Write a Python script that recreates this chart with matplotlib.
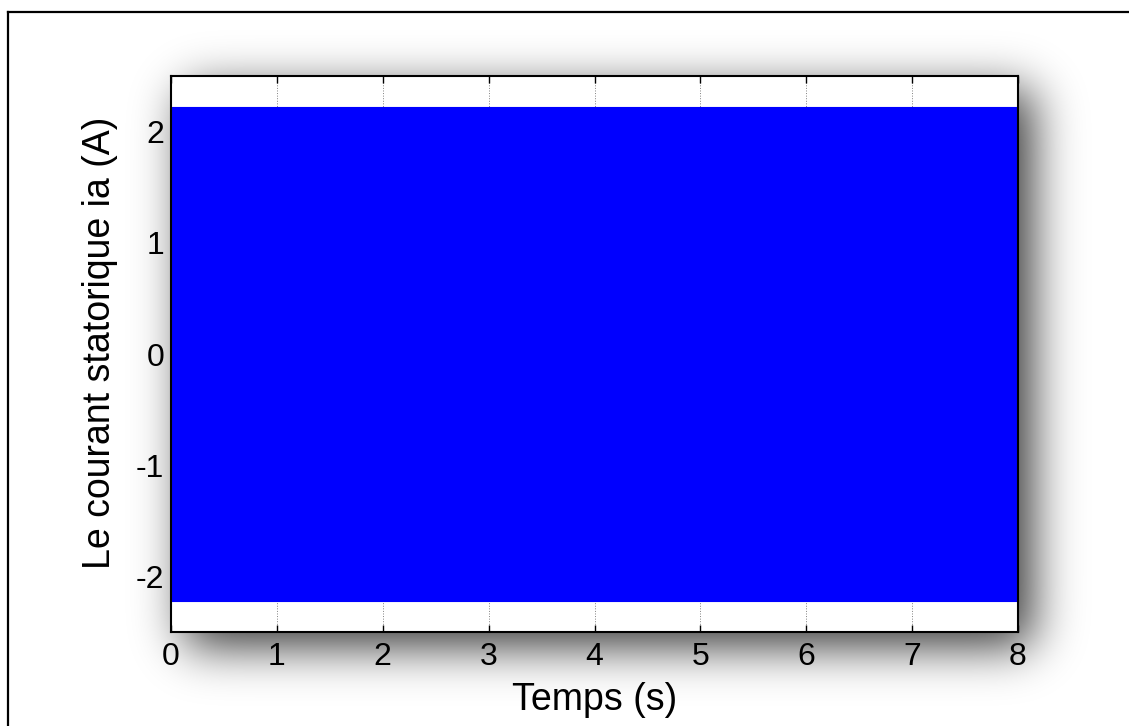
import numpy as np
import matplotlib
matplotlib.use("Agg")
from matplotlib import pyplot as plt
from matplotlib.lines import Line2D

# envelope of the stator current ia (50 Hz signal, too dense to resolve at this scale)
temps = [0, 8]
ia_haut = [2.22, 2.22]
ia_bas = [-2.22, -2.22]

x_ticks = [0, 1, 2, 3, 4, 5, 6, 7, 8]
y_ticks = [-2, -1, 0, 1, 2]

plt.rcParams['font.family'] = ['Liberation Sans', 'DejaVu Sans']

W, H = 1129, 726
fig = plt.figure(figsize=(W / 100, H / 100), dpi=100)

# axes box in pixels (from top-left)
ax_l, ax_r, ax_t, ax_b = 171, 1018, 76, 632

# drop shadow behind the axes
def box_blur(n, a, b, sigma):
    box = np.zeros(n)
    box[a:b] = 1.0
    k = np.arange(-3 * sigma, 3 * sigma + 1)
    g = np.exp(-0.5 * (k / sigma) ** 2)
    g /= g.sum()
    return np.convolve(box, g, mode="same")

off = 14
sx = box_blur(W, ax_l + off, ax_r + off, 24)
sy = box_blur(H, ax_t + off, ax_b + off, 24)
alpha = np.outer(sy, sx) * 0.8
shadow = np.zeros((H, W, 4))
shadow[..., 3] = alpha

bg = fig.add_axes([0, 0, 1, 1], zorder=0)
bg.imshow(shadow, extent=[0, 1, 0, 1], aspect="auto", interpolation="bilinear")
bg.set_xlim(0, 1)
bg.set_ylim(0, 1)
bg.axis("off")

# outer frame (only top and left edges visible)
fig.add_artist(Line2D([8 / W, 8 / W], [0, 1 - 12 / H], color="black", lw=1.6, transform=fig.transFigure))
fig.add_artist(Line2D([8 / W, 1], [1 - 12 / H, 1 - 12 / H], color="black", lw=1.6, transform=fig.transFigure))

ax = fig.add_axes([ax_l / W, 1 - ax_b / H, (ax_r - ax_l) / W, (ax_b - ax_t) / H], zorder=1)
ax.set_facecolor("white")
ax.fill_between(temps, ia_bas, ia_haut, color="#0000ff", linewidth=0.8, edgecolor="#0000ff", zorder=2)

ax.set_xlim(0, 8)
ax.set_ylim(-2.5, 2.5)
ax.set_xticks(x_ticks)
ax.set_yticks(y_ticks)
ax.set_xticklabels([str(v) for v in x_ticks])
ax.set_yticklabels([str(v) for v in y_ticks])
ax.tick_params(direction="in", length=5, width=1, top=True, right=True, labelsize=23)
ax.tick_params(axis="x", pad=7)
ax.tick_params(axis="y", pad=5)
ax.grid(True, linestyle=":", color="#808080", linewidth=0.7)
ax.set_axisbelow(True)
for s in ax.spines.values():
    s.set_linewidth(1.5)
    s.set_zorder(3)

ax.set_xlabel("Temps (s)", fontsize=27)
ax.xaxis.set_label_coords(0.5, -0.09)
ax.set_ylabel("Le courant statorique ia (A)", fontsize=27)
ax.yaxis.set_label_coords(-0.062, 0.52)

fig.savefig("out.png", dpi=100)
